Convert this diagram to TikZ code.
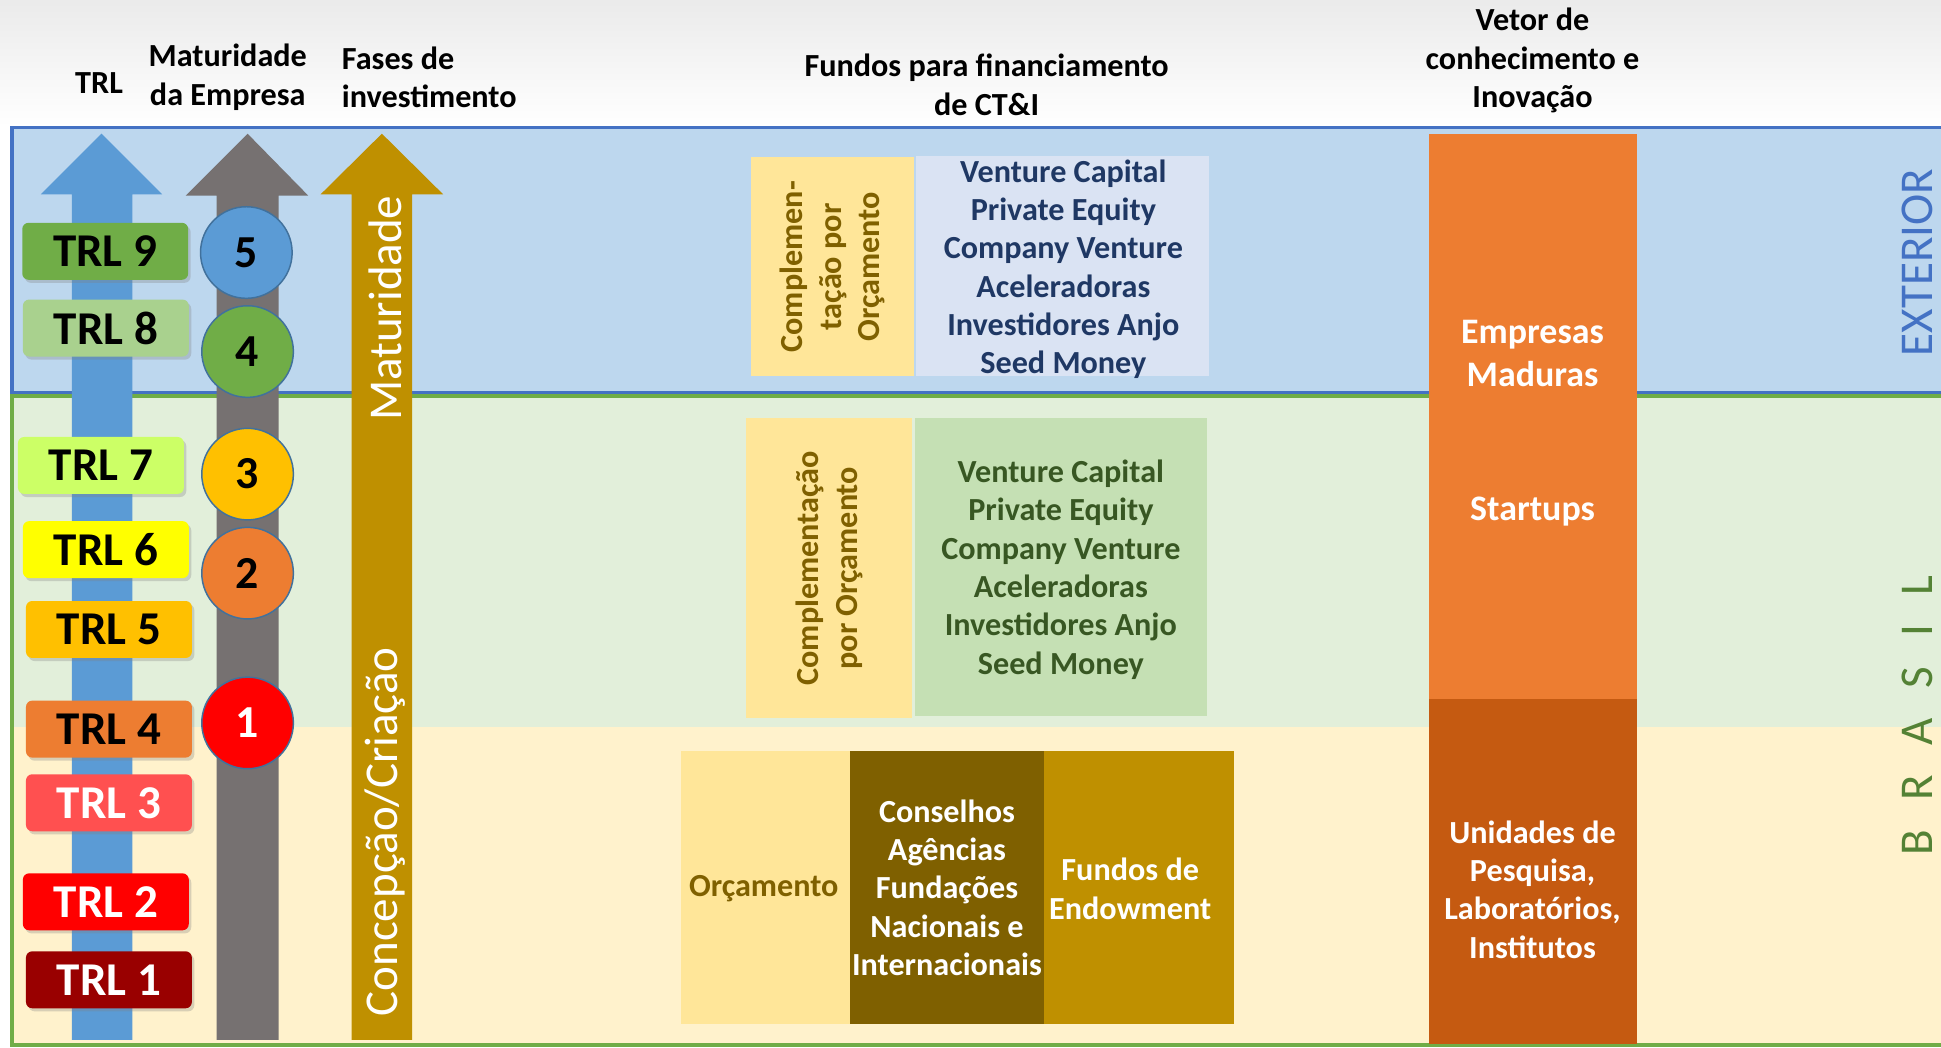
\documentclass[tikz,border=0pt]{standalone}
\usepackage{fontspec}
\setmainfont{Carlito}
\usetikzlibrary{shadows}
\definecolor{frameblue}{HTML}{4472C4}
\definecolor{extfill}{HTML}{BDD7EE}
\definecolor{brgreen}{HTML}{70AD47}
\definecolor{brfill}{HTML}{E2EFDA}
\definecolor{beige}{HTML}{FFF2CC}
\definecolor{trlblue}{HTML}{5B9BD5}
\definecolor{arrgray}{HTML}{767171}
\definecolor{gold}{HTML}{BF9000}
\definecolor{yel}{HTML}{FFE699}
\definecolor{darkgold}{HTML}{7F6000}
\definecolor{paleblue}{HTML}{DAE3F3}
\definecolor{navy}{HTML}{1F3864}
\definecolor{palegreen}{HTML}{C5E0B4}
\definecolor{dkgreen}{HTML}{385723}
\definecolor{orng}{HTML}{ED7D31}
\definecolor{dkorng}{HTML}{C55A11}
\definecolor{brtext}{HTML}{548235}
\definecolor{circedge}{HTML}{41719C}
\definecolor{trlnine}{HTML}{70AD47}
\definecolor{trleight}{HTML}{A9D18E}
\definecolor{trlseven}{HTML}{CCFF66}
\definecolor{trlsix}{HTML}{FFFF00}
\definecolor{trlfive}{HTML}{FFC000}
\definecolor{trlfour}{HTML}{ED7D31}
\definecolor{trlthree}{HTML}{FF5050}
\definecolor{trltwo}{HTML}{FF0000}
\definecolor{trlone}{HTML}{990000}
\begin{document}
\begin{tikzpicture}[x=1pt,y=-1pt,
  hdr/.style={font=\bfseries\fontsize{26}{31}\selectfont, align=center, text=black, inner sep=0pt},
  trlbox/.style={rounded corners=5pt, minimum width=134pt, minimum height=46pt, inner sep=0pt,
    font=\bfseries\fontsize{38}{40}\selectfont,
    drop shadow={opacity=0.3, shadow xshift=2pt, shadow yshift=-2.5pt}},
  lvl/.style={circle, minimum size=74pt, draw=circedge, line width=1.2pt, inner sep=0pt,
    font=\bfseries\fontsize{37}{40}\selectfont},
  rbox/.style={inner sep=0pt, outer sep=0pt, anchor=north west},
  lst/.style={font=\bfseries\fontsize{26}{31}\selectfont, align=center, inner sep=0pt},
  big/.style={font=\bfseries\fontsize{29}{35}\selectfont, align=center, inner sep=0pt, text=white},
  vert/.style={rotate=90, font=\fontsize{38}{42}\selectfont, inner sep=0pt}
]
\useasboundingbox (0,0) rectangle (1568,846);
% background
\fill[white] (0,0) rectangle (1568,846);
\shade[top color=black!8, bottom color=white] (0,0) rectangle (1568,102);
% regions
\draw[line width=3pt, draw=frameblue, fill=extfill] (9.5,103) rectangle (1590,317);
\fill[brfill] (9.5,320) rectangle (1590,587);
\fill[beige] (9.5,587) rectangle (1590,844);
\draw[line width=3pt, draw=brgreen] (9.5,320) rectangle (1590,844);

% header texts
\node[hdr] (hTRL) at (80,67) {TRL};
\node[hdr] (hMat) at (184,62.5) {Maturidade\\da Empresa};
\node[hdr, align=left, anchor=west] (hFas) at (276,62.5) {Fases de\\investimento};
\node[hdr] (hFun) at (797,68.5) {Fundos para financiamento\\de CT\&I};
\node[hdr] (hVet) at (1238,49) {Vetor de\\conhecimento e\\Inovação};

% big arrows
\fill[trlblue] (58,840) -- (58,157) -- (33,157) -- (82,108) -- (131,157) -- (107,157) -- (107,840) -- cycle;
\fill[arrgray] (175,840) -- (175,158) -- (150,158) -- (200,108) -- (249,158) -- (225,158) -- (225,840) -- cycle;
\fill[gold] (284,840) -- (284,157) -- (259,157) -- (308.5,108) -- (358,157) -- (333,157) -- (333,840) -- cycle;
\node[vert, text=white] (tMat) at (311,249) {Maturidade};
\node[vert, text=white] (tCon) at (311,672) {Concepção/Criação};

% TRL boxes
\node[trlbox, fill=trlnine] (trl9) at (85,203) {TRL 9};
\node[trlbox, fill=trleight] (trl8) at (85.5,265) {TRL 8};
\node[trlbox, fill=trlseven] (trl7) at (81.5,376) {TRL 7};
\node[trlbox, fill=trlsix] (trl6) at (85.5,444) {TRL 6};
\node[trlbox, fill=trlfive] (trl5) at (88,508.5) {TRL 5};
\node[trlbox, fill=trlfour] (trl4) at (88,589) {TRL 4};
\node[trlbox, fill=trlthree, text=white] (trl3) at (88,648.5) {TRL 3};
\node[trlbox, fill=trltwo, text=white] (trl2) at (85.5,728.5) {TRL 2};
\node[trlbox, fill=trlone, text=white] (trl1) at (88,791.5) {TRL 1};

% maturity circles
\node[lvl, fill=trlblue] (m5) at (199,204) {5};
\node[lvl, fill=trlnine] (m4) at (200,284) {4};
\node[lvl, fill=trlfive] (m3) at (200,383) {3};
\node[lvl, fill=orng] (m2) at (200,463) {2};
\node[lvl, fill=trltwo, text=white] (m1) at (200,584) {1};

% exterior funds
\node[rbox, fill=yel, minimum width=131pt, minimum height=177pt] (e1) at (607,127) {};
\node[lst, rotate=90, text=darkgold] (e1t) at (e1.center) {Complemen-\\tação por\\Orçamento};
\node[rbox, fill=paleblue, minimum width=237pt, minimum height=178pt] (e2) at (740,126) {};
\node[lst, text=navy] (e2t) at (859,217.5) {Venture Capital\\Private Equity\\Company Venture\\Aceleradoras\\Investidores Anjo\\Seed Money};

% brasil funds
\node[rbox, fill=yel, minimum width=134pt, minimum height=242pt] (b1) at (603,338) {};
\node[lst, rotate=90, text=darkgold] (b1t) at (b1.center) {Complementação\\por Orçamento};
\node[rbox, fill=palegreen, minimum width=236pt, minimum height=240pt] (b2) at (739,338) {};
\node[lst, text=dkgreen] (b2t) at (857,460) {Venture Capital\\Private Equity\\Company Venture\\Aceleradoras\\Investidores Anjo\\Seed Money};

% base funds
\node[rbox, fill=yel, minimum width=137pt, minimum height=220pt] (o1) at (550,607) {};
\node[lst, text=darkgold] (o1t) at (617,718) {Orçamento};
\node[rbox, fill=darkgold, minimum width=156pt, minimum height=220pt] (o2) at (687,607) {};
\node[lst, text=white] (o2t) at (o2.center) {Conselhos\\Agências\\Fundações\\Nacionais e\\Internacionais};
\node[rbox, fill=gold, minimum width=154pt, minimum height=220pt] (o3) at (843,607) {};
\node[lst, text=white] (o3t) at (913,718) {Fundos de\\Endowment};

% vetor column
\node[rbox, fill=orng, minimum width=168pt, minimum height=457pt] (v1) at (1154,108) {};
\node[big] (v1a) at (1238,285.5) {Empresas\\Maduras};
\node[big] (v1b) at (1238,413) {Startups};
\node[rbox, fill=dkorng, minimum width=168pt, minimum height=278pt] (v2) at (1154,565) {};
\node[lst, text=white] (v2t) at (1238,718.5) {Unidades de\\Pesquisa,\\Laboratórios,\\Institutos};

% side labels
\node[vert, text=frameblue] (sExt) at (1549,212) {EXTERIOR};
\node[vert, text=brtext] (sBra) at (1549,578) {{\spaceskip=24pt B R A S I L}};
\end{tikzpicture}
\end{document}
